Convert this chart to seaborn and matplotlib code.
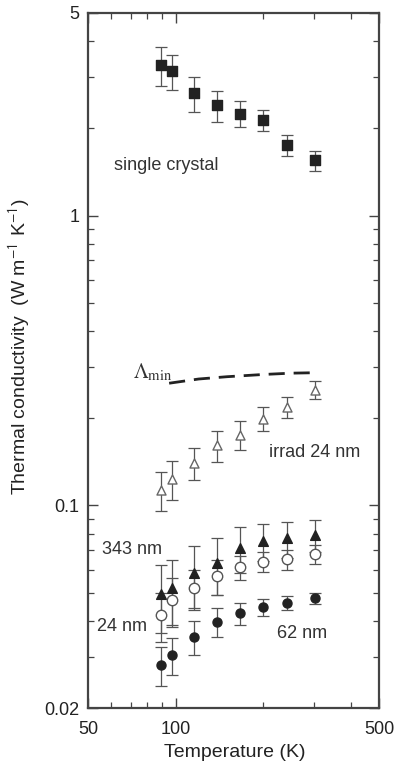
import numpy as np
import pandas as pd
import matplotlib
matplotlib.use("Agg")
import matplotlib.pyplot as plt
import seaborn as sns
from matplotlib.ticker import FixedLocator, NullFormatter, FixedFormatter

# ---- data ----
temps = [89, 97, 116, 139, 167, 200, 241, 301]

single_crystal = [3.31, 3.15, 2.64, 2.40, 2.25, 2.14, 1.75, 1.55]
single_crystal_err = [0.50, 0.44, 0.36, 0.30, 0.23, 0.18, 0.14, 0.12]

irrad_24 = [0.113, 0.123, 0.140, 0.161, 0.175, 0.199, 0.218, 0.250]
irrad_24_err = [0.017, 0.019, 0.018, 0.020, 0.020, 0.019, 0.018, 0.018]

nm343 = [0.0494, 0.0517, 0.0583, 0.0631, 0.0714, 0.0755, 0.0770, 0.0790]
nm343_err = [0.013, 0.013, 0.014, 0.014, 0.013, 0.011, 0.011, 0.010]

nm24 = [0.0419, 0.0472, 0.0517, 0.0570, 0.0611, 0.0639, 0.0651, 0.0680]
nm24_err = [0.008, 0.009, 0.008, 0.008, 0.006, 0.005, 0.005, 0.005]

nm62 = [0.0281, 0.0305, 0.0352, 0.0397, 0.0424, 0.0447, 0.0461, 0.0478]
nm62_err = [0.0043, 0.0044, 0.0047, 0.0045, 0.0038, 0.0030, 0.0025, 0.0020]

lmin_T = [95, 120, 150, 200, 250, 303]
lmin_val = [0.264, 0.273, 0.278, 0.283, 0.286, 0.287]

x_ticks = [50, 100, 500]
x_tick_labels = ["50", "100", "500"]
y_ticks = [0.02, 0.1, 1, 5]
y_tick_labels = ["0.02", "0.1", "1", "5"]

# ---- styling ----
sns.set_theme(style="ticks")
plt.rcParams['font.family'] = ['Liberation Sans', 'DejaVu Sans']
plt.rcParams['mathtext.fontset'] = 'stix'

fig = plt.figure(figsize=(3.95, 7.69), dpi=100)
ax = fig.add_axes([0.2228, 0.0793, 0.7367, 0.9038])

ink = '#222222'
gray = '#555555'

series = [
    (single_crystal, single_crystal_err, 's', ink, ink, 7.0),
    (irrad_24, irrad_24_err, '^', 'white', '#666666', 6.5),
    (nm343, nm343_err, '^', ink, ink, 7),
    (nm24, nm24_err, 'o', 'white', '#555555', 7.5),
    (nm62, nm62_err, 'o', ink, ink, 6.5),
]

for vals, errs, mk, fc, ec, ms in series:
    ax.errorbar(temps, vals, yerr=errs, fmt='none', ecolor=gray, elinewidth=0.9,
                capsize=4, capthick=0.9, zorder=2)
    df = pd.DataFrame({'T': temps, 'k': vals})
    sns.scatterplot(data=df, x='T', y='k', marker=mk, s=ms ** 2, color=fc,
                    edgecolor=ec, linewidth=1.0, ax=ax, zorder=3)

ldf = pd.DataFrame({'T': lmin_T, 'k': lmin_val})
sns.lineplot(data=ldf, x='T', y='k', ax=ax, color=ink, linewidth=2.0,
             dashes=False, zorder=2)
ax.lines[-1].set_dashes([5.8, 3.2])

ax.set_xscale('log')
ax.set_yscale('log')
ax.set_xlim(50, 500)
ax.set_ylim(0.02, 5)

ax.xaxis.set_major_locator(FixedLocator(x_ticks))
ax.xaxis.set_major_formatter(FixedFormatter(x_tick_labels))
ax.xaxis.set_minor_locator(FixedLocator([60, 70, 80, 90, 200, 300, 400]))
ax.xaxis.set_minor_formatter(NullFormatter())
ax.yaxis.set_major_locator(FixedLocator(y_ticks))
ax.yaxis.set_major_formatter(FixedFormatter(y_tick_labels))
ax.yaxis.set_minor_locator(FixedLocator(
    [0.03, 0.04, 0.05, 0.06, 0.07, 0.08, 0.09,
     0.2, 0.3, 0.4, 0.5, 0.6, 0.7, 0.8, 0.9, 2, 3, 4]))
ax.yaxis.set_minor_formatter(NullFormatter())

ax.tick_params(which='both', direction='in', top=True, right=True,
               color='#444444', labelcolor=ink, labelsize=13)
ax.tick_params(which='major', length=7, width=1.0)
ax.tick_params(which='minor', length=4, width=0.9)
ax.tick_params(axis='x', which='major', pad=9)
ax.tick_params(axis='y', which='major', pad=6)

for sp in ax.spines.values():
    sp.set_color('#444444')
    sp.set_linewidth(1.6)

ax.set_xlabel('Temperature (K)', fontsize=14, color=ink)
ax.set_ylabel(r'Thermal conductivity  (W m$^{\mathsf{-1}}$ K$^{\mathsf{-1}}$)',
              fontsize=14, color=ink)
ax.xaxis.set_label_coords(0.505, -0.052)
ax.yaxis.set_label_coords(-0.19, 0.52)

def lab(x, y, s, **kw):
    ax.text(x, y, s, fontsize=13, color='#333333', va='center', ha='left', **kw)

lab(0.09, 0.78, 'single crystal', transform=ax.transAxes)
lab(0.623, 0.368, 'irrad 24 nm', transform=ax.transAxes)
lab(0.048, 0.228, '343 nm', transform=ax.transAxes)
lab(0.030, 0.117, '24 nm', transform=ax.transAxes)
lab(0.651, 0.107, '62 nm', transform=ax.transAxes)
ax.text(0.155, 0.483, r'$\Lambda_{\rm min}$', transform=ax.transAxes,
        fontsize=15, color='#333333', va='center', ha='left')

fig.savefig('out.png', dpi=100)
